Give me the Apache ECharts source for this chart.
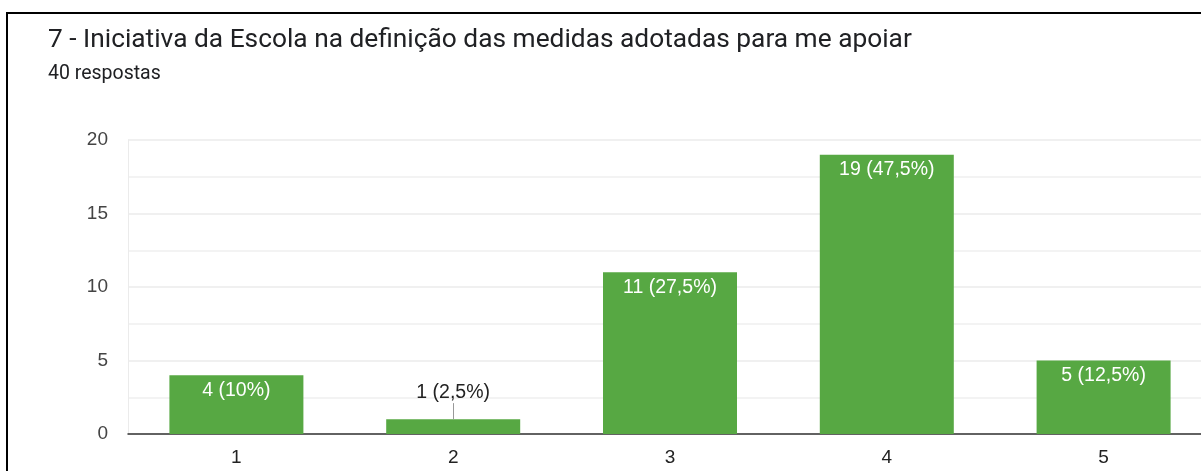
<!DOCTYPE html>
<html><head><meta charset="utf-8">
<script src="https://cdn.jsdelivr.net/npm/echarts@6/dist/echarts.min.js"></script>
<style>html,body{margin:0;padding:0;background:#fff;overflow:hidden;width:1201px;height:471px}#c{width:1212px;height:471px}</style>
</head><body><div id="c"></div>
<script>
const title = '7 - Iniciativa da Escola na definição das medidas adotadas para me apoiar';
const subtitle = '40 respostas';
const categories = ['1', '2', '3', '4', '5'];
const counts = [4, 1, 11, 19, 5];
const labels = ['4 (10%)', '1 (2,5%)', '11 (27,5%)', '19 (47,5%)', '5 (12,5%)'];
const yTicks = [0, 5, 10, 15, 20];

const chart = echarts.init(document.getElementById('c'), null, {renderer: 'canvas'});
const green = '#57a843';
const data = counts.map((v, i) => {
  const item = {value: v};
  if (i === 1) {
    item.label = {position: 'top', distance: 17, color: '#222'};
  }
  return item;
});
chart.setOption({
  animation: false,
  graphic: [
    {type: 'rect', shape: {x: 7, y: 13, width: 1400, height: 700}, style: {fill: 'none', stroke: '#000', lineWidth: 2}, silent: true},
    {type: 'text', left: 48, top: 27, style: {text: title, font: '26.3px Roboto', fill: '#202124'}},
    {type: 'text', left: 48, top: 64, style: {text: subtitle, font: '19.5px Roboto', fill: '#202124'}}
  ],
  grid: {left: 128, top: 140, right: 0, bottom: 37, containLabel: false},
  xAxis: {
    type: 'category', data: categories,
    axisLine: {lineStyle: {color: '#333', width: 1.5}},
    axisTick: {show: false},
    axisLabel: {color: '#222', fontSize: 19, fontFamily: 'Liberation Sans, Arial', margin: 14}
  },
  yAxis: {
    type: 'value', min: yTicks[0], max: yTicks[yTicks.length - 1], interval: 5,
    axisLine: {show: true, lineStyle: {color: '#ebebeb'}},
    axisTick: {show: false},
    axisLabel: {color: '#444', fontSize: 19, fontFamily: 'Liberation Sans, Arial', margin: 20},
    splitLine: {lineStyle: {color: '#ebebeb', width: 1.5}},
    minorTick: {show: false, splitNumber: 2},
    minorSplitLine: {show: true, lineStyle: {color: '#f0f0f0', width: 1.5}}
  },
  series: [{
    type: 'bar', data: data, barWidth: 134,
    itemStyle: {color: green},
    label: {
      show: true, position: 'insideTop', distance: 5, color: '#fff',
      fontSize: 19.5, fontFamily: 'Liberation Sans, Arial',
      formatter: p => labels[p.dataIndex]
    },
    markLine: {
      silent: true, symbol: 'none', label: {show: false},
      lineStyle: {color: '#999', width: 1, type: 'solid'},
      data: [[{coord: [categories[1], counts[1]]}, {coord: [categories[1], 2.1]}]]
    }
  }]
});
</script></body></html>
